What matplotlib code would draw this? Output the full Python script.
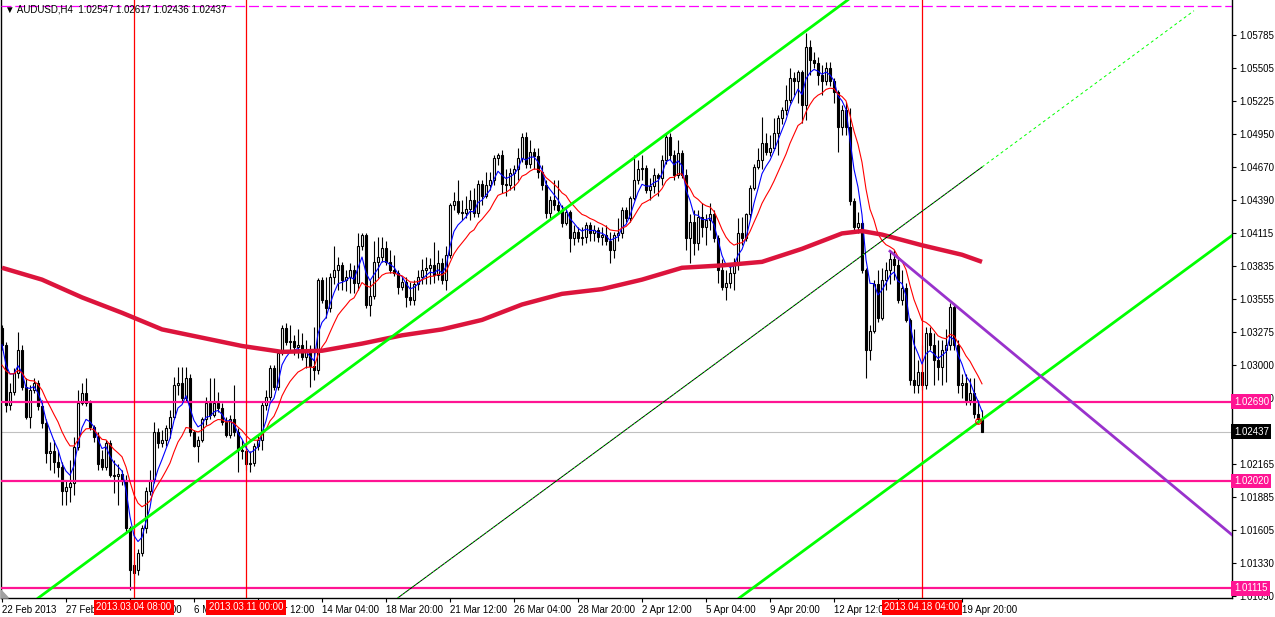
import numpy as np
import matplotlib.pyplot as plt
from matplotlib.transforms import blended_transform_factory

plt.rcParams['font.family'] = ['Liberation Sans', 'DejaVu Sans']

# AUDUSD H4 bars, bar 0 = 22 Feb 2013 20:00
opens = [
    1.0331, 1.0317, 1.0266, 1.0277, 1.0293, 1.0313, 1.0281, 1.0256, 1.0279, 1.0285,
    1.0265, 1.0251, 1.0226, 1.0227, 1.0218, 1.0214, 1.0194, 1.0197, 1.0200, 1.0231,
    1.0268, 1.0276, 1.0268, 1.0248, 1.0239, 1.0221, 1.0214, 1.0234, 1.0207, 1.0206,
    1.0208, 1.0203, 1.0162, 1.0131, 1.0127, 1.0141, 1.0162, 1.0194, 1.0203, 1.0243,
    1.0234, 1.0237, 1.0247, 1.0256, 1.0283, 1.0285, 1.0272, 1.0289, 1.0243, 1.0232,
    1.0237, 1.0254, 1.0268, 1.0258, 1.0268, 1.0264, 1.0252, 1.0241, 1.0254, 1.0243,
    1.0228, 1.0227, 1.0216, 1.0217, 1.0232, 1.0237, 1.0266, 1.0273, 1.0297, 1.0281,
    1.0310, 1.0331, 1.0319, 1.0320, 1.0315, 1.0317, 1.0307, 1.0311, 1.0299, 1.0296,
    1.0372, 1.0355, 1.0348, 1.0374, 1.0380, 1.0384, 1.0372, 1.0374, 1.0380, 1.0369,
    1.0400, 1.0410, 1.0351, 1.0358, 1.0387, 1.0391, 1.0399, 1.0387, 1.0380, 1.0378,
    1.0366, 1.0370, 1.0357, 1.0355, 1.0368, 1.0374, 1.0380, 1.0382, 1.0384, 1.0376,
    1.0386, 1.0372, 1.0393, 1.0435, 1.0438, 1.0429, 1.0428, 1.0432, 1.0439, 1.0428,
    1.0453, 1.0443, 1.0452, 1.0456, 1.0475, 1.0477, 1.0453, 1.0452, 1.0462, 1.0465,
    1.0475, 1.0492, 1.0470, 1.0480, 1.0476, 1.0463, 1.0452, 1.0428, 1.0439, 1.0435,
    1.0431, 1.0420, 1.0429, 1.0407, 1.0412, 1.0407, 1.0408, 1.0418, 1.0411, 1.0414,
    1.0408, 1.0410, 1.0405, 1.0397, 1.0410, 1.0411, 1.0431, 1.0424, 1.0441, 1.0456,
    1.0465, 1.0466, 1.0448, 1.0451, 1.0460, 1.0458, 1.0473, 1.0492, 1.0477, 1.0460,
    1.0479, 1.0460, 1.0407, 1.0421, 1.0403, 1.0425, 1.0416, 1.0422, 1.0427, 1.0407,
    1.0380, 1.0366, 1.0369, 1.0378, 1.0386, 1.0411, 1.0407, 1.0427, 1.0449, 1.0467,
    1.0473, 1.0487, 1.0480, 1.0483, 1.0496, 1.0508, 1.0515, 1.0524, 1.0542, 1.0540,
    1.0547, 1.0519, 1.0568, 1.0557, 1.0555, 1.0545, 1.0540, 1.0551, 1.0540, 1.0530,
    1.0501, 1.0515, 1.0501, 1.0438, 1.0416, 1.0420, 1.0380, 1.0313, 1.0329, 1.0368,
    1.0340, 1.0372, 1.0380, 1.0389, 1.0384, 1.0355, 1.0365, 1.0338, 1.0287, 1.0283,
    1.0294, 1.0283, 1.0327, 1.0317, 1.0304, 1.0298, 1.0313, 1.0317, 1.0349, 1.0317,
    1.0283, 1.0285, 1.0270, 1.0276, 1.0259, 1.02547,
]
highs = [
    1.0334, 1.0319, 1.0285, 1.0297, 1.0328, 1.0317, 1.0289, 1.0283, 1.0289, 1.0287,
    1.0270, 1.0254, 1.0235, 1.0237, 1.0228, 1.0218, 1.0203, 1.0220, 1.0239, 1.0279,
    1.0285, 1.0289, 1.0270, 1.0249, 1.0243, 1.0228, 1.0237, 1.0237, 1.0220, 1.0216,
    1.0211, 1.0207, 1.0164, 1.0135, 1.0145, 1.0165, 1.0197, 1.0211, 1.0252, 1.0247,
    1.0245, 1.0249, 1.0262, 1.0290, 1.0298, 1.0298, 1.0298, 1.0292, 1.0245, 1.0240,
    1.0256, 1.0273, 1.0289, 1.0289, 1.0277, 1.0268, 1.0256, 1.0258, 1.0283, 1.0247,
    1.0237, 1.0230, 1.0227, 1.0234, 1.0241, 1.0269, 1.0279, 1.0300, 1.0300, 1.0313,
    1.0334, 1.0335, 1.0334, 1.0325, 1.0330, 1.0327, 1.0321, 1.0317, 1.0332, 1.0373,
    1.0374, 1.0374, 1.0378, 1.0400, 1.0391, 1.0387, 1.0380, 1.0386, 1.0384, 1.0411,
    1.0411, 1.0411, 1.0372, 1.0405, 1.0408, 1.0408, 1.0405, 1.0397, 1.0393, 1.0380,
    1.0374, 1.0374, 1.0370, 1.0372, 1.0380, 1.0389, 1.0391, 1.0390, 1.0404, 1.0397,
    1.0390, 1.0400, 1.0437, 1.0446, 1.0456, 1.0439, 1.0443, 1.0448, 1.0449, 1.0456,
    1.0456, 1.0463, 1.0463, 1.0477, 1.0479, 1.0481, 1.0465, 1.0466, 1.0469, 1.0483,
    1.0496, 1.0497, 1.0490, 1.0483, 1.0483, 1.0469, 1.0456, 1.0443, 1.0456, 1.0456,
    1.0435, 1.0432, 1.0431, 1.0418, 1.0416, 1.0416, 1.0421, 1.0421, 1.0418, 1.0416,
    1.0416, 1.0418, 1.0412, 1.0412, 1.0424, 1.0433, 1.0433, 1.0443, 1.0477, 1.0473,
    1.0477, 1.0469, 1.0458, 1.0466, 1.0462, 1.0477, 1.0496, 1.0496, 1.0481, 1.0490,
    1.0481, 1.0465, 1.0427, 1.0431, 1.0431, 1.0437, 1.0427, 1.0437, 1.0431, 1.0410,
    1.0389, 1.0380, 1.0384, 1.0390, 1.0424, 1.0425, 1.0428, 1.0452, 1.0470, 1.0483,
    1.0509, 1.0496, 1.0494, 1.0508, 1.0511, 1.0518, 1.0536, 1.0551, 1.0547, 1.0549,
    1.0549, 1.0580, 1.0574, 1.0564, 1.0560, 1.0553, 1.0556, 1.0556, 1.0542, 1.0532,
    1.0519, 1.0522, 1.0517, 1.0441, 1.0429, 1.0422, 1.0382, 1.0334, 1.0372, 1.0380,
    1.0382, 1.0387, 1.0397, 1.0397, 1.0390, 1.0380, 1.0369, 1.0340, 1.0330, 1.0304,
    1.0317, 1.0332, 1.0332, 1.0327, 1.0321, 1.0321, 1.0330, 1.0352, 1.0352, 1.0321,
    1.0292, 1.0292, 1.0289, 1.0289, 1.0270, 1.02617,
]
lows = [
    1.0313, 1.0260, 1.0262, 1.0275, 1.0289, 1.0279, 1.0254, 1.0247, 1.0276, 1.0262,
    1.0247, 1.0217, 1.0211, 1.0209, 1.0205, 1.0182, 1.0182, 1.0184, 1.0190, 1.0228,
    1.0266, 1.0265, 1.0245, 1.0235, 1.0211, 1.0211, 1.0211, 1.0205, 1.0192, 1.0182,
    1.0199, 1.0159, 1.0110, 1.0116, 1.0123, 1.0139, 1.0158, 1.0190, 1.0200, 1.0230,
    1.0231, 1.0232, 1.0238, 1.0254, 1.0275, 1.0269, 1.0269, 1.0240, 1.0231, 1.0218,
    1.0235, 1.0249, 1.0254, 1.0256, 1.0260, 1.0249, 1.0239, 1.0238, 1.0240, 1.0210,
    1.0221, 1.0211, 1.0210, 1.0215, 1.0228, 1.0228, 1.0262, 1.0270, 1.0279, 1.0279,
    1.0308, 1.0317, 1.0313, 1.0308, 1.0306, 1.0304, 1.0297, 1.0281, 1.0287, 1.0292,
    1.0352, 1.0340, 1.0345, 1.0368, 1.0363, 1.0363, 1.0362, 1.0361, 1.0361, 1.0363,
    1.0397, 1.0348, 1.0341, 1.0356, 1.0373, 1.0387, 1.0384, 1.0378, 1.0375, 1.0360,
    1.0363, 1.0349, 1.0351, 1.0351, 1.0363, 1.0368, 1.0368, 1.0368, 1.0369, 1.0372,
    1.0368, 1.0363, 1.0390, 1.0431, 1.0427, 1.0422, 1.0424, 1.0422, 1.0425, 1.0425,
    1.0435, 1.0441, 1.0448, 1.0452, 1.0469, 1.0445, 1.0443, 1.0448, 1.0448, 1.0456,
    1.0471, 1.0466, 1.0466, 1.0465, 1.0458, 1.0448, 1.0424, 1.0424, 1.0431, 1.0427,
    1.0416, 1.0418, 1.0395, 1.0401, 1.0404, 1.0401, 1.0403, 1.0405, 1.0405, 1.0404,
    1.0401, 1.0401, 1.0386, 1.0390, 1.0405, 1.0407, 1.0421, 1.0421, 1.0439, 1.0453,
    1.0456, 1.0445, 1.0439, 1.0445, 1.0443, 1.0452, 1.0470, 1.0473, 1.0456, 1.0458,
    1.0458, 1.0397, 1.0386, 1.0393, 1.0397, 1.0408, 1.0401, 1.0414, 1.0404, 1.0369,
    1.0363, 1.0355, 1.0365, 1.0363, 1.0380, 1.0401, 1.0405, 1.0424, 1.0448, 1.0465,
    1.0465, 1.0477, 1.0476, 1.0481, 1.0477, 1.0503, 1.0511, 1.0521, 1.0528, 1.0521,
    1.0504, 1.0507, 1.0545, 1.0551, 1.0536, 1.0528, 1.0536, 1.0535, 1.0521, 1.0480,
    1.0494, 1.0494, 1.0435, 1.0412, 1.0411, 1.0378, 1.0289, 1.0304, 1.0327, 1.0336,
    1.0338, 1.0363, 1.0368, 1.0372, 1.0352, 1.0351, 1.0336, 1.0283, 1.0276, 1.0276,
    1.0279, 1.0280, 1.0313, 1.0283, 1.0287, 1.0283, 1.0286, 1.0313, 1.0313, 1.0276,
    1.0272, 1.0266, 1.0266, 1.0255, 1.0251, 1.02436,
]
closes = [
    1.0317, 1.0266, 1.0277, 1.0293, 1.0313, 1.0281, 1.0256, 1.0279, 1.0285, 1.0265,
    1.0251, 1.0226, 1.0227, 1.0218, 1.0214, 1.0194, 1.0197, 1.0200, 1.0231, 1.0268,
    1.0276, 1.0268, 1.0248, 1.0239, 1.0216, 1.0214, 1.0234, 1.0207, 1.0206, 1.0208,
    1.0203, 1.0162, 1.0127, 1.0124, 1.0141, 1.0162, 1.0194, 1.0203, 1.0243, 1.0234,
    1.0237, 1.0247, 1.0256, 1.0283, 1.0285, 1.0272, 1.0289, 1.0243, 1.0232, 1.0237,
    1.0254, 1.0268, 1.0258, 1.0268, 1.0264, 1.0252, 1.0241, 1.0254, 1.0243, 1.0228,
    1.0227, 1.0216, 1.0217, 1.0232, 1.0237, 1.0266, 1.0273, 1.0297, 1.0281, 1.0310,
    1.0331, 1.0319, 1.0320, 1.0315, 1.0317, 1.0307, 1.0311, 1.0299, 1.0296, 1.0372,
    1.0355, 1.0348, 1.0374, 1.0380, 1.0384, 1.0372, 1.0374, 1.0380, 1.0369, 1.0400,
    1.0410, 1.0351, 1.0358, 1.0387, 1.0391, 1.0399, 1.0387, 1.0380, 1.0378, 1.0366,
    1.0370, 1.0357, 1.0355, 1.0368, 1.0374, 1.0380, 1.0382, 1.0384, 1.0376, 1.0386,
    1.0372, 1.0393, 1.0435, 1.0438, 1.0429, 1.0428, 1.0432, 1.0439, 1.0428, 1.0453,
    1.0443, 1.0452, 1.0456, 1.0475, 1.0477, 1.0453, 1.0452, 1.0462, 1.0465, 1.0475,
    1.0492, 1.0470, 1.0480, 1.0476, 1.0463, 1.0452, 1.0428, 1.0439, 1.0435, 1.0431,
    1.0420, 1.0429, 1.0407, 1.0412, 1.0407, 1.0408, 1.0418, 1.0411, 1.0414, 1.0408,
    1.0410, 1.0405, 1.0397, 1.0410, 1.0411, 1.0431, 1.0424, 1.0441, 1.0456, 1.0465,
    1.0466, 1.0448, 1.0451, 1.0460, 1.0458, 1.0473, 1.0492, 1.0477, 1.0460, 1.0479,
    1.0460, 1.0407, 1.0421, 1.0403, 1.0425, 1.0416, 1.0422, 1.0427, 1.0407, 1.0380,
    1.0366, 1.0369, 1.0378, 1.0386, 1.0411, 1.0407, 1.0427, 1.0449, 1.0467, 1.0473,
    1.0487, 1.0480, 1.0483, 1.0496, 1.0508, 1.0515, 1.0524, 1.0542, 1.0540, 1.0547,
    1.0519, 1.0568, 1.0557, 1.0555, 1.0545, 1.0540, 1.0551, 1.0540, 1.0530, 1.0501,
    1.0515, 1.0501, 1.0438, 1.0416, 1.0420, 1.0380, 1.0313, 1.0329, 1.0368, 1.0340,
    1.0372, 1.0380, 1.0389, 1.0384, 1.0355, 1.0365, 1.0338, 1.0287, 1.0283, 1.0294,
    1.0283, 1.0327, 1.0317, 1.0304, 1.0298, 1.0313, 1.0317, 1.0349, 1.0317, 1.0283,
    1.0285, 1.0270, 1.0276, 1.0259, 1.02547, 1.02437,
]

# slow MA (thick crimson) at sample bars
ma_slow_bars = [0, 10, 20, 30, 40, 50, 60, 70, 80, 90, 100, 110, 120, 130, 140,
                150, 160, 170, 180, 190, 200, 210, 215, 220, 230, 240, 245]
ma_slow_vals = [1.0382, 1.0372, 1.0357, 1.0344, 1.0330, 1.0323, 1.0316, 1.0311,
                1.0312, 1.0318, 1.0325, 1.0330, 1.0338, 1.0351, 1.0360, 1.0364,
                1.0372, 1.0382, 1.0384, 1.0387, 1.0398, 1.0411, 1.0413, 1.0410,
                1.0401, 1.0393, 1.0387]
fast_start, mid_start = 1.0317, 1.0297   # MA values at left edge

sr_levels = [1.02690, 1.02020, 1.01115]
last_price = 1.02437
vline_bars = [33, 61, 230]
vline_labels = ['2013.03.04 08:00', '2013.03.11 00:00', '2013.04.18 04:00']
xtick_bars = list(range(0, 241, 16))
xtick_labels = ['22 Feb 2013', '27 Feb 12:00', '4 Mar 04:00', '6 Mar 20:00',
                '11 Mar 12:00', '14 Mar 04:00', '18 Mar 20:00', '21 Mar 12:00',
                '26 Mar 04:00', '28 Mar 20:00', '2 Apr 12:00', '5 Apr 04:00',
                '9 Apr 20:00', '12 Apr 12:00', '17 Apr 04:00', '19 Apr 20:00']
ytick_vals = [1.05785, 1.05505, 1.05225, 1.04950, 1.04670, 1.04390, 1.04115,
              1.03835, 1.03555, 1.03275, 1.03000, 1.02720, 1.02165, 1.01885,
              1.01605, 1.01330, 1.01050]

# trend lines: two anchor points (bar, price)
chan_upper = [(33, 1.0163), (201, 1.0582)]
chan_lower = [(185, 1.0105), (245, 1.0254)]
chan_mid = [(100, 1.0106), (245, 1.0467)]
down_line = [(222, 1.0396), (237, 1.0354)]
top_level = 1.0603


def ema(vals, span, start):
    a = 2.0 / (span + 1)
    out, prev = [], start
    for v in vals:
        prev = prev + a * (v - prev)
        out.append(prev)
    return out


o = np.array(opens); h = np.array(highs); l = np.array(lows); c = np.array(closes)
x = np.arange(len(c))
up = c >= o

fig = plt.figure(figsize=(12.75, 6.17), dpi=100)
ax = fig.add_axes([1/1275, 19/617, 1231/1275, 598/617])
ax.set_xlim(-0.25, 307.5)
ax.set_ylim(1.01033, 1.0608)

ax.axhline(last_price, color='#C0C0C0', lw=0.8, zorder=1)

# candles
ax.vlines(x, l, h, color='black', lw=0.8, zorder=2)
body_lo = np.minimum(o, c)
body_h = np.maximum(np.abs(c - o), 0.00002)
ax.bar(x[up], body_h[up], bottom=body_lo[up], width=0.5, color='white',
       edgecolor='black', linewidth=0.8, zorder=2.5)
ax.bar(x[~up], body_h[~up], bottom=body_lo[~up], width=0.5, color='black',
       edgecolor='black', linewidth=0.8, zorder=2.5)

# moving averages
ax.plot(x, ema(closes, 5, fast_start), color='#0000FF', lw=0.8, zorder=4)
ax.plot(x, ema(closes, 13, mid_start), color='#FF0000', lw=0.8, zorder=4)
ax.plot(ma_slow_bars, ma_slow_vals, color='#DC143C', lw=3.2, zorder=4,
        solid_capstyle='butt')

# support / resistance levels
for p in sr_levels:
    ax.axhline(p, color='#FF1493', lw=1.6, zorder=3)
ax.axhline(top_level, color='#FF00FF', lw=0.9, ls=(0, (8, 3)), zorder=3)

# vertical markers
for b in vline_bars:
    ax.axvline(b, color='#FF0000', lw=0.9, zorder=3)

# channel lines
ax.axline(chan_upper[0], chan_upper[1], color='#00FF00', lw=2, zorder=5)
ax.axline(chan_lower[0], chan_lower[1], color='#00FF00', lw=2, zorder=5)
(mb0, mp0), (mb1, mp1) = chan_mid
slope = (mp1 - mp0) / (mb1 - mb0)
mx = np.array([mb0 - 1, mb1])
ax.plot(mx, mp0 + slope * (mx - mb0), color='black', lw=0.7, zorder=5)
ax.plot(mx, mp0 + slope * (mx - mb0), color='#00FF00', lw=0.7,
        ls=(0, (1.5, 3)), zorder=5)
ex = np.array([mb1, 298])
ax.plot(ex, mp0 + slope * (ex - mb0), color='#00FF00', lw=0.7,
        ls=(0, (3, 3)), zorder=5)

(db0, dp0), (db1, dp1) = down_line
dslope = (dp1 - dp0) / (db1 - db0)
dx = np.array([db0, 308])
ax.plot(dx, dp0 + dslope * (dx - db0), color='#9932CC', lw=2, zorder=5)

ax.plot([244], [1.0253], 'o', mfc='none', mec='red', ms=4, mew=0.8, zorder=6)

# axes styling
ax.set_facecolor('white')
for s in ['left', 'bottom', 'right']:
    ax.spines[s].set_color('black')
    ax.spines[s].set_linewidth(1)
ax.spines['top'].set_visible(False)
ax.yaxis.tick_right()
ax.set_yticks(ytick_vals)
ax.set_yticklabels([f'{v:.5f}' for v in ytick_vals])
ax.set_xticks(xtick_bars)
ax.set_xticklabels(xtick_labels)
for lab in ax.get_xticklabels():
    lab.set_ha('left')
ax.tick_params(axis='both', length=3, width=0.8, labelsize=7, pad=2,
               colors='black')

tx = blended_transform_factory(ax.transData, ax.transAxes)
for b, lab in zip(vline_bars, vline_labels):
    ax.text(b, -0.0155, lab, transform=tx, ha='center', va='center',
            fontsize=7, color='white', clip_on=False, zorder=10,
            bbox=dict(boxstyle='square,pad=0.25', fc='#FF0000', ec='none'))

ty = blended_transform_factory(ax.transAxes, ax.transData)
for p in sr_levels:
    ax.text(1.0015, p, f'{p:.5f}', transform=ty, ha='left', va='center',
            fontsize=7, color='white', clip_on=False, zorder=10,
            bbox=dict(boxstyle='square,pad=0.25', fc='#FF1493', ec='none'))
ax.text(1.0015, last_price, f'{last_price:.5f}', transform=ty, ha='left',
        va='center', fontsize=7, color='white', clip_on=False, zorder=10,
        bbox=dict(boxstyle='square,pad=0.25', fc='black', ec='none'))

ax.fill([0, 0.006, 0], [0, 0, 0.013], transform=ax.transAxes, color='#A0A0A0',
        zorder=6, clip_on=False)

fig.text(5/1275, 1 - 9/617,
         '\u25bc AUDUSD,H4  1.02547 1.02617 1.02436 1.02437',
         fontsize=7, va='center', ha='left')

fig.savefig('out.png', dpi=100, facecolor='white')
